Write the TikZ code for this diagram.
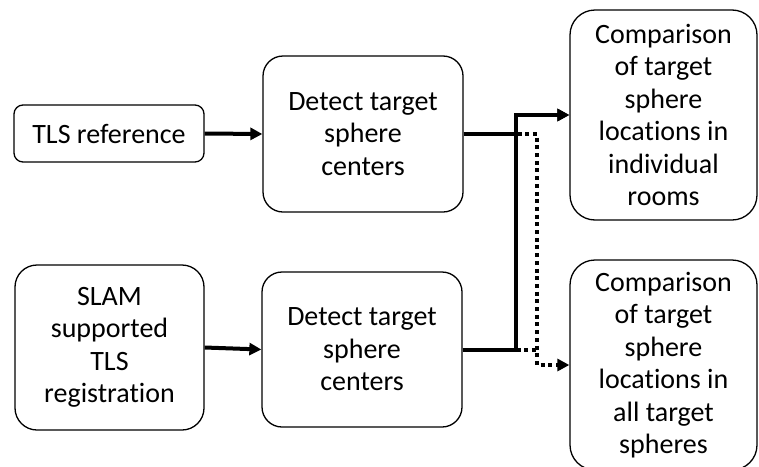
\documentclass[tikz,border=0pt]{standalone}
\usepackage{fontspec}
\setmainfont{Carlito}[Ligatures=NoCommon]
\usetikzlibrary{arrows.meta}
\begin{document}
\begin{tikzpicture}[x=1pt,y=-1pt,
  box/.style={draw,line width=1.3pt,align=center,inner sep=0pt,
    font=\fontsize{28}{32.5}\selectfont},
  link/.style={line width=4pt,-{Triangle[length=12pt,width=12pt]}},
  dotlink/.style={line width=4pt,dash pattern=on 4pt off 3.7pt},
  dottip/.style={-{Triangle[length=12pt,width=12pt]}}]
\useasboundingbox (0,0) rectangle (759,466);
\node[box,rounded corners=9pt,minimum width=190pt,minimum height=57pt] (tls) at (109,133.5) {TLS reference};
\node[box,rounded corners=22pt,minimum width=189pt,minimum height=165pt] (slam) at (109.5,347.5) {SLAM\\supported\\TLS\\registration};
\node[box,rounded corners=20pt,minimum width=200pt,minimum height=156pt] (det1) at (363,134) {Detect target\\sphere\\centers};
\node[box,rounded corners=20pt,minimum width=200pt,minimum height=155pt] (det2) at (362,349.5) {Detect target\\sphere\\centers};
\node[box,rounded corners=25pt,minimum width=187pt,minimum height=210pt] (cmp1) at (663.5,115) {Comparison\\of target\\sphere\\locations in\\individual\\rooms};
\node[box,rounded corners=25pt,minimum width=187pt,minimum height=210pt] (cmp2) at (663.5,365) {Comparison\\of target\\sphere\\locations in\\all target\\spheres};
\coordinate (vs) at (516,0);
\coordinate (vd) at (537,0);
\draw[link] (tls.east) -- (det1.west);
\draw[link] (slam.east) -- (det2.west);
\draw[dotlink,dottip] (det1.east) -- (det1.east -| vd) |- (cmp2.west);
\draw[dotlink] (det2.east) -- (det2.east -| vd);
\draw[link] (det1.east) -- (det1.east -| vs) |- (cmp1.west);
\draw[link] (det2.east) -- (det2.east -| vs) |- (cmp1.west);
\end{tikzpicture}
\end{document}
